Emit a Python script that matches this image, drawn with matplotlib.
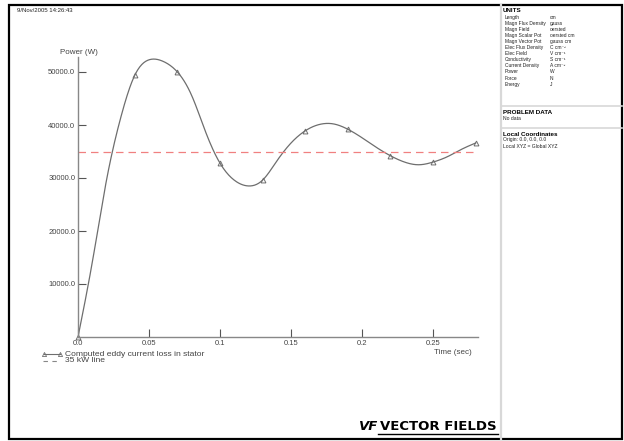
import numpy as np
import matplotlib
matplotlib.use("Agg")
import matplotlib.pyplot as plt

plt.rcParams['font.family'] = ['Liberation Sans', 'DejaVu Sans']

# curve values every 0.01 s
t = [0.00, 0.01, 0.02, 0.03, 0.04, 0.05, 0.06, 0.07, 0.08, 0.09,
     0.10, 0.11, 0.12, 0.13, 0.14, 0.15, 0.16, 0.17, 0.18, 0.19,
     0.20, 0.21, 0.22, 0.23, 0.24, 0.25, 0.26, 0.27, 0.28]
power = [0, 14000, 29500, 41300, 49400, 52300, 52000, 50000, 45600, 38600,
         32800, 29600, 28500, 29600, 33200, 36600, 38900, 40100, 40200, 39200,
         37600, 35800, 34200, 33000, 32500, 33000, 34000, 35400, 36600]
marker_idx = [0, 4, 7, 10, 13, 16, 19, 22, 25, 28]   # points that carry a triangle
ref_level = 35000
yticks = [10000, 20000, 30000, 40000, 50000]
xticks = [0.0, 0.05, 0.1, 0.15, 0.2, 0.25]

units_names = ['Length', 'Magn Flux Density', 'Magn Field', 'Magn Scalar Pot',
               'Magn Vector Pot', 'Elec Flux Density', 'Elec Field', 'Conductivity',
               'Current Density', 'Power', 'Force', 'Energy']
units_vals = ['cm', 'gauss', 'oersted', 'oersted cm', 'gauss cm', 'C cm⁻²',
              'V cm⁻¹', 'S cm⁻¹', 'A cm⁻²', 'W', 'N', 'J']


def spline(x, y, xs):
    # natural cubic spline, only to draw the line smoothly between readings
    x = np.asarray(x, float); y = np.asarray(y, float)
    n = len(x)
    h = np.diff(x)
    A = np.zeros((n, n)); b = np.zeros(n)
    A[0, 0] = A[-1, -1] = 1
    for i in range(1, n - 1):
        A[i, i - 1] = h[i - 1]
        A[i, i] = 2 * (h[i - 1] + h[i])
        A[i, i + 1] = h[i]
        b[i] = 6 * ((y[i + 1] - y[i]) / h[i] - (y[i] - y[i - 1]) / h[i - 1])
    M = np.linalg.solve(A, b)
    idx = np.clip(np.searchsorted(x, xs) - 1, 0, n - 2)
    x0, x1 = x[idx], x[idx + 1]
    hh = x1 - x0
    a = (x1 - xs) / hh; c = (xs - x0) / hh
    return (a * y[idx] + c * y[idx + 1]
            + ((a ** 3 - a) * M[idx] + (c ** 3 - c) * M[idx + 1]) * hh ** 2 / 6)


W, H = 624, 441
fig = plt.figure(figsize=(W / 100, H / 100), dpi=100)

def fx(px):
    return px / W

def fy(py):
    return 1 - py / H

# outer frame and right panel separator
fig.add_artist(plt.Rectangle((fx(9), fy(439)), fx(613), fy(5) - fy(439),
                             transform=fig.transFigure, fill=False, lw=1.6, ec='black'))
fig.add_artist(plt.Line2D([fx(501), fx(501)], [fy(5), fy(439)],
                          transform=fig.transFigure, color='#d8d8d8', lw=1.6))

fig.text(fx(17), fy(10), '9/Nov/2005 14:26:43', fontsize=4.3, va='center', color='#222')

ax = fig.add_axes([fx(78), fy(337), fx(478 - 78), fy(57) - fy(337)])
px_per_sec = 1420
px_per_w = 5.3 / 1000
ax.set_xlim(0, 400 / px_per_sec)
ax.set_ylim(0, 280 / px_per_w)

ts = np.linspace(t[0], t[-1], 600)
ax.plot(ts, spline(t, power, ts), color='#6e6e6e', lw=0.9)
ax.plot(np.take(t, marker_idx), np.take(power, marker_idx), ls='none', marker='^', ms=3.5,
        mfc='none', mec='#6e6e6e', mew=0.7, clip_on=False)
ax.plot([0, 400 / px_per_sec], [ref_level, ref_level], color='#f08080', lw=0.9,
        dashes=(6, 4))

for s in ['top', 'right']:
    ax.spines[s].set_visible(False)
for s in ['left', 'bottom']:
    ax.spines[s].set_color('#888888')
    ax.spines[s].set_linewidth(1.0)
ax.set_xticks(xticks)
ax.set_xticklabels(['%g' % v if v != 0 else '0.0' for v in xticks])
ax.set_yticks(yticks)
ax.set_yticklabels(['%.1f' % v for v in yticks])
ax.tick_params(direction='in', length=6, width=0.8, color='#555555',
               labelsize=5.5, labelcolor='#444444', pad=2)
ax.patch.set_alpha(0)

fig.text(fx(60), fy(52), 'Power (W)', fontsize=5.8, color='#444', va='center')
fig.text(fx(434), fy(353), 'Time (sec)', fontsize=5.8, color='#444', va='center')

# legend drawn by hand like the original
fig.add_artist(plt.Line2D([fx(44), fx(60)], [fy(354), fy(354)], transform=fig.transFigure,
                          color='#6e6e6e', lw=0.8, marker='^', ms=3, mfc='none',
                          mec='#6e6e6e', mew=0.6))
fig.text(fx(65), fy(354), 'Computed eddy current loss in stator', fontsize=6.1,
         color='#444', va='center')
fig.add_artist(plt.Line2D([fx(43), fx(60)], [fy(361), fy(361)], transform=fig.transFigure,
                          color='#888888', lw=0.8, dashes=(4, 4)))
fig.text(fx(65), fy(361), '35 kW line', fontsize=6.1, color='#444', va='center')

# right info panel
fig.text(fx(503), fy(10), 'UNITS', fontsize=4.5, weight='bold', va='center')
for i, (nm, v) in enumerate(zip(units_names, units_vals)):
    yy = 17.5 + i * 6.05
    fig.text(fx(505), fy(yy), nm, fontsize=3.5, va='center', color='#222')
    fig.text(fx(550), fy(yy), v, fontsize=3.5, va='center', color='#222')
fig.add_artist(plt.Line2D([fx(502), fx(622)], [fy(106), fy(106)], transform=fig.transFigure,
                          color='#d8d8d8', lw=1.2))
fig.text(fx(503), fy(112), 'PROBLEM DATA', fontsize=4.5, weight='bold', va='center')
fig.text(fx(503), fy(118.5), 'No data', fontsize=3.6, va='center', color='#222')
fig.add_artist(plt.Line2D([fx(502), fx(622)], [fy(128), fy(128)], transform=fig.transFigure,
                          color='#d8d8d8', lw=1.2))
fig.text(fx(503), fy(134), 'Local Coordinates', fontsize=4.5, weight='bold', va='center')
fig.text(fx(503), fy(140), 'Origin: 0.0, 0.0, 0.0', fontsize=3.6, va='center', color='#222')
fig.text(fx(503), fy(146), 'Local XYZ = Global XYZ', fontsize=3.6, va='center', color='#222')

# logo
fig.text(fx(359), fy(427), 'VF', fontsize=9.5, weight='bold', style='italic', va='center',
         family='DejaVu Sans')
fig.text(fx(380), fy(427), 'VECTOR FIELDS', fontsize=9.5, weight='bold', va='center',
         family='DejaVu Sans')
fig.add_artist(plt.Line2D([fx(378), fx(498)], [fy(433.5), fy(433.5)],
                          transform=fig.transFigure, color='black', lw=1.0))

fig.savefig('out.png', dpi=100)
